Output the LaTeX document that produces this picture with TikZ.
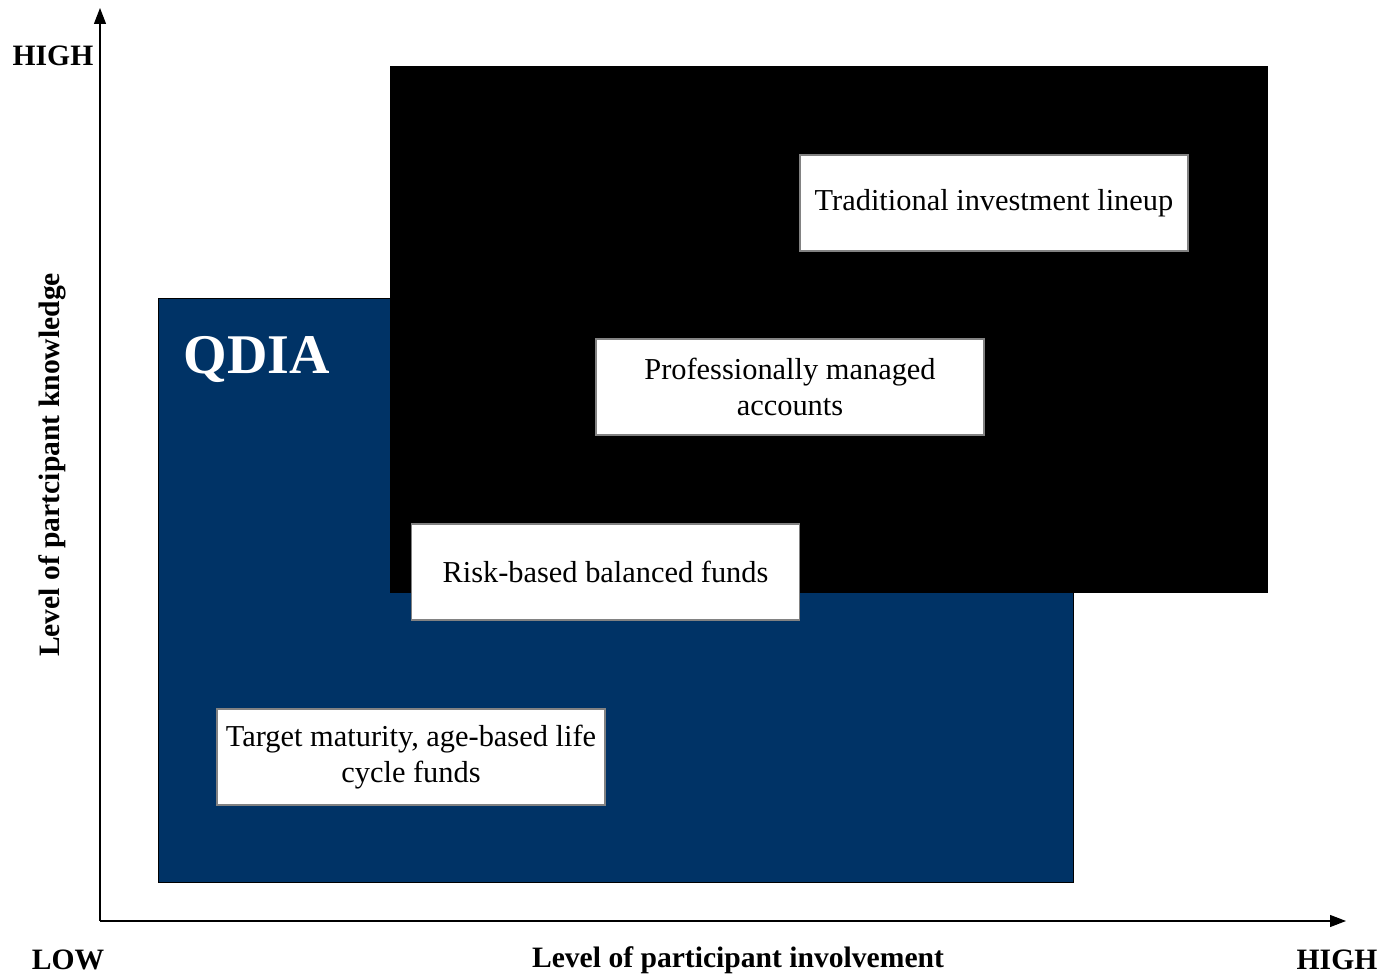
\documentclass[tikz,border=0pt]{standalone}
\usepackage{fontspec}
\setmainfont{Liberation Serif}
\usetikzlibrary{arrows.meta}
\definecolor{qdiablue}{RGB}{0,51,102}
\definecolor{boxgray}{RGB}{130,130,130}
\begin{document}
\begin{tikzpicture}[x=0.5pt,y=-0.5pt,
  axislabel/.style={font=\fontsize{14.8}{17}\selectfont\bfseries, inner sep=0pt},
  fundbox/.style={draw=boxgray, line width=0.6pt, fill=white, minimum width=194pt,
    minimum height=48pt, align=center, inner sep=0pt,
    font=\fontsize{15.2}{18}\selectfont},
  axisline/.style={line width=0.6pt, -{Triangle[length=8pt,width=6pt]}}]
\useasboundingbox (0,0) rectangle (1383,977);

% regions
\filldraw[fill=qdiablue, draw=black, line width=0.5pt] (158,299) rectangle (1073,883);
\fill[black] (390,66) rectangle (1268,593);
\node[text=white, font=\fontsize{28}{30}\selectfont\bfseries, inner sep=0pt] (qdia) at (257,360) {QDIA};

% fund types
\node[fundbox] (trad) at (994,203) {Traditional investment lineup};
\node[fundbox] (prof) at (790,387) {Professionally managed\\accounts};
\node[fundbox] (risk) at (605.5,572) {Risk-based balanced funds};
\node[fundbox] (target) at (411,757) {Target maturity, age-based life\\cycle funds};

% axes
\coordinate (origin) at (100,921);
\coordinate (ytop) at (100,8);
\coordinate (xend) at (1346,921);
\draw[axisline] (origin) -- (ytop);
\draw[axisline] (origin) -- (xend);

% axis labels
\node[axislabel] (yhigh) at (53,56) {HIGH};
\node[axislabel] (xlow) at (68,960) {LOW};
\node[axislabel] (xhigh) at (1337,960) {HIGH};
\node[axislabel] (xtitle) at (738,960) {Level of participant involvement};
\node[axislabel, rotate=90] (ytitle) at (52,465) {Level of partcipant knowledge};
\end{tikzpicture}
\end{document}
